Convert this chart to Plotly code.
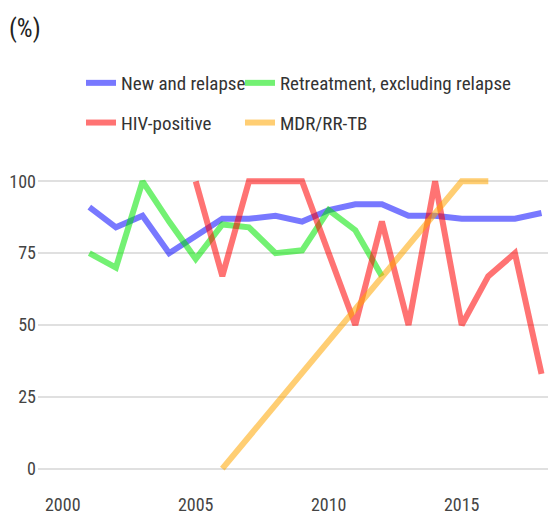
import plotly.graph_objects as go

years = list(range(2001, 2019))
new_relapse = [91, 84, 88, 75, 81, 87, 87, 88, 86, 90, 92, 92, 88, 88, 87, 87, 87, 89]
retreatment = [75, 70, 100, 86, 73, 85, 84, 75, 76, 90, 83, 67, None, None, None, None, None, None]
hiv_positive = [None, None, None, None, 100, 67, 100, 100, 100, 75, 50, 86, 50, 100, 50, 67, 75, 33]
mdr_rr_tb = [None, None, None, None, None, 0, None, None, None, None, None, None, None, None, 100, 100, None, None]
x_ticks = [2000, 2005, 2010, 2015]
y_ticks = [0, 25, 50, 75, 100]

FONT = "Liberation Sans Narrow, Arial Narrow, Roboto Condensed, Roboto, sans-serif"

series = [
    ("New and relapse", new_relapse, "rgba(0,0,255,0.53)", "legend"),
    ("Retreatment, excluding relapse", retreatment, "rgba(0,230,0,0.55)", "legend2"),
    ("HIV-positive", hiv_positive, "rgba(255,0,0,0.55)", "legend"),
    ("MDR/RR-TB", mdr_rr_tb, "rgba(255,165,0,0.55)", "legend2"),
]

fig = go.Figure()
for i, (name, vals, col, leg) in enumerate(series):
    fig.add_trace(go.Scatter(
        x=years, y=vals, name=name, mode="lines",
        line=dict(color=col, width=6),
        connectgaps=True, legend=leg, legendgroup=str(i),
        hoverinfo="skip",
    ))

# page has an 8px body margin, so the figure is 8px smaller and offsets are -8
W, H = 548, 508
fig.update_layout(
    width=W, height=H,
    margin=dict(l=30, r=0, t=158.6, b=33.3, autoexpand=False),
    paper_bgcolor="white", plot_bgcolor="white",
    font=dict(family=FONT, color="#444"),
    title=dict(text="(%)", font=dict(family=FONT, size=25, color="#222"),
               xref="container", x=1 / W, xanchor="left",
               yref="container", y=1 - 20 / H, yanchor="middle"),
    legend=dict(xref="container", x=73 / W, xanchor="left",
                yref="container", y=1 - 56 / H, yanchor="top",
                orientation="v", traceorder="grouped", tracegroupgap=12,
                font=dict(family=FONT, size=19, color="#333"),
                bgcolor="rgba(0,0,0,0)"),
    legend2=dict(xref="container", x=232 / W, xanchor="left",
                 yref="container", y=1 - 56 / H, yanchor="top",
                 orientation="v", traceorder="grouped", tracegroupgap=12,
                 font=dict(family=FONT, size=19, color="#333"),
                 bgcolor="rgba(0,0,0,0)"),
    showlegend=True,
)
fig.update_xaxes(range=[1999.07, 2018.545], tickvals=x_ticks, showgrid=False,
                 zeroline=False, showline=False, ticks="",
                 tickfont=dict(family=FONT, size=18, color="#444"),
                 ticklabelstandoff=9)
fig.update_yaxes(range=[-5, 105], tickvals=y_ticks, showgrid=True,
                 gridcolor="#e0e0e0", gridwidth=2, zeroline=False, showline=False,
                 ticks="", tickfont=dict(family=FONT, size=18, color="#444"),
                 ticklabelstandoff=1)

fig.write_html("out.html")
